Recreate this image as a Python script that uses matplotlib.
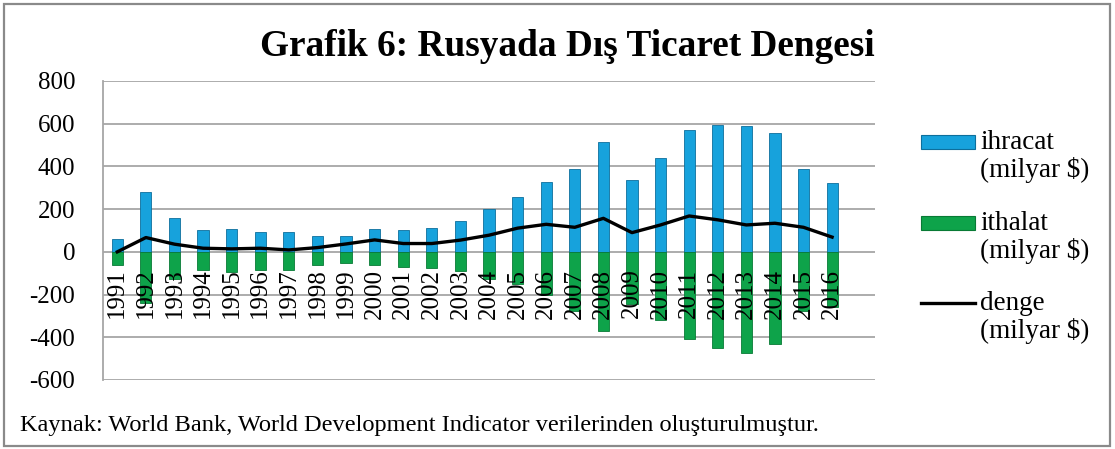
import matplotlib
matplotlib.use("Agg")
import matplotlib.pyplot as plt
from matplotlib.patches import Rectangle, Patch
from matplotlib.lines import Line2D
from matplotlib.legend_handler import HandlerPatch, HandlerLine2D
import numpy as np

plt.rcParams['font.family'] = ['Liberation Serif', 'DejaVu Serif']

years = [str(y) for y in range(1991, 2017)]
ihracat = [58, 280, 159, 101, 106, 93, 93, 76, 76, 106, 104, 114, 143, 199,
           258, 327, 386, 515, 336, 441, 570, 593, 590, 555, 386, 324]
ithalat = [-61, -240, -128, -84, -92, -84, -84, -61, -53, -61, -72, -76, -88, -125,
           -150, -200, -275, -372, -246, -318, -408, -450, -474, -430, -275, -258]
denge = [0, 67, 36, 17, 14, 17, 9, 20, 37, 56, 39, 39, 55, 78,
         111, 129, 115, 157, 90, 126, 168, 150, 126, 134, 115, 69]
yticks = [-600, -400, -200, 0, 200, 400, 600, 800]
labels = ['ihracat\n(milyar $)', 'ithalat\n(milyar $)', 'denge\n(milyar $)']
title = 'Grafik 6: Rusyada Dış Ticaret Dengesi'
source = 'Kaynak: World Bank, World Development Indicator verilerinden oluşturulmuştur.'

BLUE = '#17a2dc'
BLUE_E = '#0d6f9c'
GREEN = '#0ea34a'
GREEN_E = '#087a35'
GRID = '#a6a6a6'

W, H = 1115, 449
fig = plt.figure(figsize=(W / 100, H / 100), dpi=100)
ax = fig.add_axes([103 / W, 1 - 380 / H, (875 - 103) / W, (380 - 81) / H])

for s in ['top', 'right']:
    ax.spines[s].set_visible(False)
ax.spines['bottom'].set_position(('data', 0))
ax.spines['bottom'].set_visible(False)
ax.spines['left'].set_color(GRID)
ax.spines['left'].set_linewidth(1.3)
ax.spines['left'].set_zorder(1)

x = np.arange(len(years))
bw = 0.39
for v in yticks:
    ax.axhline(v, color=GRID, lw=1.3, zorder=1)
ax.bar(x, ihracat, width=bw, color=BLUE, edgecolor=BLUE_E, linewidth=0.6, zorder=3)
ax.bar(x, ithalat, width=bw, color=GREEN, edgecolor=GREEN_E, linewidth=0.6, zorder=3)
ax.plot(x, denge, color='black', lw=2.4, zorder=4, solid_joinstyle='round')

ax.set_xlim(-0.5, len(years) + 0.5)
ax.set_ylim(-600, 800)
ax.set_yticks(yticks)
ax.set_yticklabels([str(v) for v in yticks], fontsize=18)
ax.set_xticks(x)
ax.set_xticklabels(years, rotation=90, fontsize=18, va='top', ha='center')
ax.tick_params(axis='both', length=0)
ax.tick_params(axis='x', pad=12)
ax.tick_params(axis='y', pad=20)
ax.xaxis.set_zorder(6)
ax.yaxis.set_zorder(6)

SHIFT = 0.62


class TopPatch(HandlerPatch):
    def create_artists(self, legend, orig_handle, xdescent, ydescent, width, height,
                       fontsize, trans):
        h = 0.52 * fontsize
        p = Rectangle((-xdescent, -ydescent + SHIFT * fontsize), width, h)
        self.update_prop(p, orig_handle, legend)
        p.set_transform(trans)
        return [p]


class TopLine(HandlerLine2D):
    def create_artists(self, legend, orig_handle, xdescent, ydescent, width, height,
                       fontsize, trans):
        y = -ydescent + SHIFT * fontsize + 0.26 * fontsize
        l = Line2D([-xdescent, -xdescent + width], [y, y])
        self.update_prop(l, orig_handle, legend)
        l.set_transform(trans)
        return [l]


hb = Patch(facecolor=BLUE, edgecolor=BLUE_E, lw=0.8)
hg = Patch(facecolor=GREEN, edgecolor=GREEN_E, lw=0.8)
hl = Line2D([], [], color='black', lw=2.4)
leg = fig.legend([hb, hg, hl], labels, loc='upper left',
                 bbox_to_anchor=(921 / W, 1 - 130 / H), frameon=False,
                 fontsize=19.5, handlelength=1.98, handletextpad=0.2,
                 labelspacing=1.02, borderpad=0, borderaxespad=0,
                 handler_map={Patch: TopPatch(), Line2D: TopLine()})
for t in leg.get_texts():
    t.set_linespacing(1.1)

fig.text(567 / W, 1 - 47 / H, title, fontsize=26.8, fontweight='bold',
         ha='center', va='center')
fig.text(20 / W, 1 - 425 / H, source, fontsize=17.6, ha='left', va='center')

fig.patches.append(Rectangle((4 / W, 3 / H), (W - 9) / W, (H - 7) / H,
                             transform=fig.transFigure, fill=False,
                             edgecolor='#8a8a8a', lw=1.6))

fig.savefig('out.png', dpi=100)
